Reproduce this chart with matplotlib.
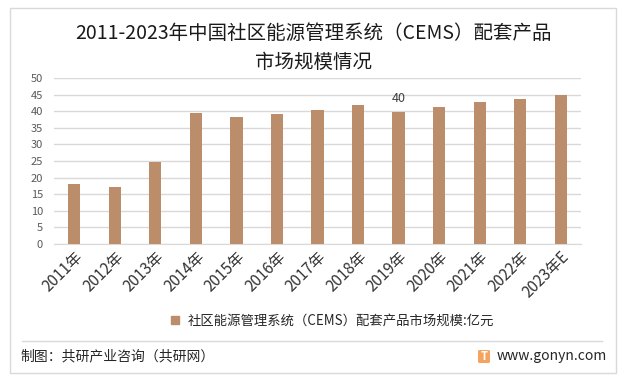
import numpy as np
import matplotlib.pyplot as plt
from matplotlib.patches import Rectangle, FancyBboxPatch
from matplotlib.lines import Line2D

plt.rcParams['font.family'] = ['Noto Sans CJK SC', 'DejaVu Sans']

# 数据
years = ['2011年', '2012年', '2013年', '2014年', '2015年', '2016年', '2017年',
         '2018年', '2019年', '2020年', '2021年', '2022年', '2023年E']
market_size = [18.1, 17.2, 24.8, 39.5, 38.3, 39.2, 40.4,
               42.0, 39.9, 41.4, 42.9, 43.8, 45.0]
label_idx = 8
label_text = '40'

title = '2011-2023年中国社区能源管理系统（CEMS）配套产品\n市场规模情况'
series_name = '社区能源管理系统（CEMS）配套产品市场规模:亿元'
source = '制图：共研产业咨询（共研网）'
site = 'www.gonyn.com'

BAR_COLOR = '#BC8D6B'
GRID_COLOR = '#D9D9D9'
W, H = 626, 384

fig = plt.figure(figsize=(W / 100, H / 100), dpi=100)
fig.patch.set_facecolor('white')

# 外框
fig.add_artist(Rectangle((10 / W, 1 - 373 / H), 606 / W, 365 / H,
                         transform=fig.transFigure, fill=False,
                         edgecolor=GRID_COLOR, linewidth=1))

ax = fig.add_axes([54 / W, 1 - 244 / H, 527 / W, 166 / H])
x = np.arange(len(years))
ax.bar(x, market_size, width=0.3, color=BAR_COLOR, zorder=3)

ax.set_xlim(-0.5, len(years) - 0.5)
ax.set_ylim(0, 50)
ax.set_yticks(np.arange(0, 51, 5))
ax.yaxis.grid(True, color=GRID_COLOR, linewidth=1)
ax.set_axisbelow(True)
for side in ['top', 'right', 'left']:
    ax.spines[side].set_visible(False)
ax.spines['bottom'].set_color(GRID_COLOR)
ax.tick_params(axis='y', length=0, labelsize=8, labelcolor='#595959', pad=8)
ax.tick_params(axis='x', length=0, labelsize=11, labelcolor='#333333', pad=3)
ax.set_xticks(x)
ax.set_xticklabels(years, rotation=45, ha='right', rotation_mode='anchor')

ax.annotate(label_text, (x[label_idx], market_size[label_idx]),
            xytext=(0, 5), textcoords='offset points',
            ha='center', va='bottom', fontsize=9, color='#404040')

fig.text(313 / W, 1 - 48 / H, title, ha='center', va='center',
         fontsize=14, color='#1a1a1a', linespacing=1.55, fontweight='light')

handle = Line2D([], [], marker='s', linestyle='none', markersize=6,
                markerfacecolor=BAR_COLOR, markeredgecolor=BAR_COLOR)
fig.legend([handle], [series_name], loc='center',
           bbox_to_anchor=(328 / W, 1 - 321 / H), frameon=False,
           fontsize=9.6, handletextpad=0.0, borderaxespad=0,
           labelcolor='#262626')

# 分隔线
fig.add_artist(Line2D([22 / W, 602 / W], [1 - 341 / H, 1 - 341 / H],
                      transform=fig.transFigure, color=GRID_COLOR, linewidth=1))

fig.text(20 / W, 1 - 356 / H, source, ha='left', va='center',
         fontsize=10, color='#262626')

# logo
fig.add_artist(FancyBboxPatch((478 / W, 1 - 363 / H), 12 / W, 13 / H,
                              boxstyle='round,pad=0,rounding_size=0.003',
                              transform=fig.transFigure,
                              facecolor='#F5A45F', edgecolor='none'))
fig.text(484 / W, 1 - 356.5 / H, 'T', ha='center', va='center',
         fontsize=8, color='white', fontweight='bold')
fig.text(497 / W, 1 - 356 / H, site, ha='left', va='center',
         fontsize=10, color='#262626')

fig.savefig('out.png', dpi=100)
